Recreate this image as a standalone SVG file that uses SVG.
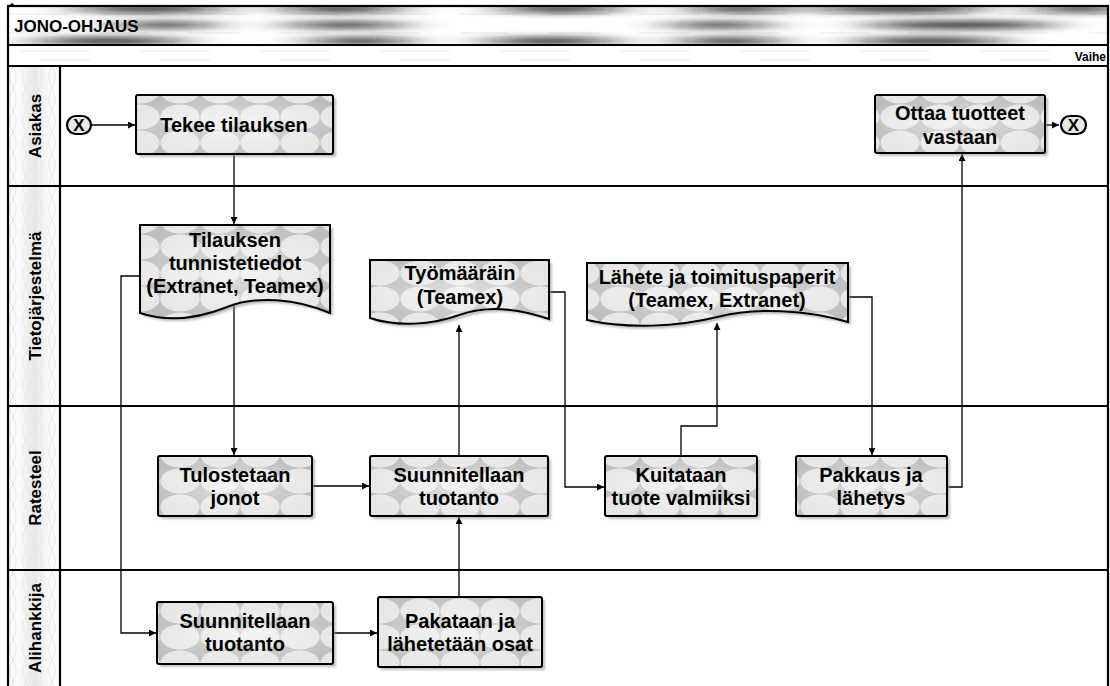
<svg xmlns="http://www.w3.org/2000/svg" width="1110" height="686" viewBox="0 0 1110 686">
<style>
.frame{fill:none;stroke:#000;stroke-width:2.2}
.box{stroke:#000;stroke-width:2;fill:url(#tile)}
.gl{fill:url(#glow);stroke:none}
.sh{fill:#8a8a8a;opacity:.55;filter:url(#sblur)}
.t{font-family:"Liberation Sans",Arial,sans-serif;font-weight:bold;font-size:20px;fill:#000;text-anchor:middle}
.lane{font-family:"Liberation Sans",Arial,sans-serif;font-weight:bold;font-size:17px;fill:#000;text-anchor:middle}
.ca{fill:none;stroke:#000;stroke-width:1.3;marker-end:url(#ah)}
.term{fill:#e8e8e8;stroke:#000;stroke-width:2.2}
.tx{font-family:"Liberation Sans",Arial,sans-serif;font-weight:bold;font-size:17px;fill:#000;text-anchor:middle}
</style>
<defs>
<pattern id="tile" patternUnits="userSpaceOnUse" width="40" height="26">
<rect width="40" height="26" fill="#bdbdbd"/>
<ellipse cx="20" cy="13" rx="20" ry="13" fill="#e6e6e6" stroke="#a8a8a8" stroke-width="0.5"/>
</pattern>
<pattern id="lanepat" patternUnits="userSpaceOnUse" width="13" height="22">
<rect width="13" height="22" fill="#fbfbfb"/>
<path d="M0,0 Q6.5,11 0,22 M13,0 Q6.5,11 13,22" fill="none" stroke="#d0d0d0" stroke-width="0.6"/>
</pattern>
<radialGradient id="glow" cx="0.5" cy="0.5" r="0.6">
<stop offset="0" stop-color="#fff" stop-opacity="0.55"/>
<stop offset="0.6" stop-color="#fff" stop-opacity="0.2"/>
<stop offset="1" stop-color="#fff" stop-opacity="0"/>
</radialGradient>
<linearGradient id="laneglow" x1="0" y1="0" x2="1" y2="0">
<stop offset="0" stop-color="#fff" stop-opacity="0"/>
<stop offset="0.5" stop-color="#e4e4e4" stop-opacity="0.9"/>
<stop offset="1" stop-color="#fff" stop-opacity="0"/>
</linearGradient>
<filter id="sblur" x="-10%" y="-10%" width="120%" height="120%"><feGaussianBlur stdDeviation="1.2"/></filter>
<filter id="hblur" x="-50%" y="-300%" width="200%" height="700%"><feGaussianBlur stdDeviation="26 3.2"/></filter>
<clipPath id="titleclip"><rect x="9" y="7" width="1099" height="38"/></clipPath>
<marker id="ah" viewBox="0 0 10 10" refX="10" refY="5" markerWidth="7" markerHeight="7" markerUnits="userSpaceOnUse" orient="auto"><path d="M0,0 L10,5 L0,10 z" fill="#000"/></marker>
</defs>

<g id="background">
<rect x="0" y="0" width="1110" height="686" fill="#fff"/>
<g clip-path="url(#titleclip)">
<rect x="9" y="7" width="1099" height="38" fill="#fff"/>
<g stroke="#d6d6d6" stroke-width="0.6">
<line x1="9" y1="14" x2="1108" y2="14" stroke-dasharray="60 30"/>
<line x1="9" y1="33" x2="1108" y2="33" stroke-dasharray="50 40"/>
</g>
<g fill="#111" filter="url(#hblur)" opacity="0.85">
<ellipse cx="150" cy="9" rx="75" ry="4"/>
<ellipse cx="340" cy="9" rx="60" ry="4"/>
<ellipse cx="560" cy="9" rx="60" ry="4"/>
<ellipse cx="740" cy="9" rx="50" ry="4"/>
<ellipse cx="900" cy="9" rx="85" ry="4"/>
<ellipse cx="1080" cy="9" rx="45" ry="4"/>
<ellipse cx="165" cy="25" rx="50" ry="3.5"/>
<ellipse cx="345" cy="25" rx="60" ry="3.5"/>
<ellipse cx="720" cy="25" rx="50" ry="3.5"/>
<ellipse cx="960" cy="25" rx="95" ry="4"/>
<ellipse cx="110" cy="41" rx="75" ry="4"/>
<ellipse cx="360" cy="41" rx="50" ry="4"/>
<ellipse cx="550" cy="41" rx="65" ry="4"/>
<ellipse cx="730" cy="41" rx="50" ry="4"/>
<ellipse cx="930" cy="41" rx="75" ry="4"/>
</g>
</g>
<g stroke="#dcdcdc" stroke-width="0.6">
<line x1="20" y1="51" x2="1100" y2="51" stroke-dasharray="70 50"/>
<line x1="40" y1="60" x2="1060" y2="60" stroke-dasharray="50 70"/>
</g>
<rect x="9" y="66" width="51" height="620" fill="url(#lanepat)"/>
<rect x="9" y="66" width="51" height="620" fill="url(#laneglow)"/>
<rect x="8" y="6" width="1100" height="682" class="frame"/>
<line x1="8" y1="45" x2="1108" y2="45" class="frame"/>
<line x1="8" y1="66" x2="1108" y2="66" class="frame"/>
<line x1="60" y1="66" x2="60" y2="686" class="frame"/>
<line x1="8" y1="186" x2="1108" y2="186" class="frame"/>
<line x1="8" y1="406" x2="1108" y2="406" class="frame"/>
<line x1="8" y1="570" x2="1108" y2="570" class="frame"/>
<circle cx="12" cy="5" r="1.8" fill="#000"/>
<text x="14" y="32" font-family="Liberation Sans, Arial, sans-serif" font-weight="bold" font-size="17" fill="#000">JONO-OHJAUS</text>
<text x="1106" y="61" font-family="Liberation Sans, Arial, sans-serif" font-weight="bold" font-size="12" fill="#000" text-anchor="end">Vaihe</text>
<text class="lane" transform="translate(41,126) rotate(-90)">Asiakas</text>
<text class="lane" transform="translate(41,296) rotate(-90)">Tietojärjestelmä</text>
<text class="lane" transform="translate(41,488) rotate(-90)">Ratesteel</text>
<text class="lane" transform="translate(41,628) rotate(-90)">Alihankkija</text>
</g>

<g id="connectors">
<path class="ca" d="M91,125 H135"/>
<path class="ca" d="M234,154 V224"/>
<path class="ca" d="M140,276 H121 V633 H156"/>
<path class="ca" d="M234,304 V455"/>
<path class="ca" d="M312,486 H369"/>
<path class="ca" d="M333,633 H377"/>
<path class="ca" d="M459,597 V517"/>
<path class="ca" d="M459,456 V325"/>
<path class="ca" d="M549,292 H565 V487 H604"/>
<path class="ca" d="M681,456 V426 H717 V323"/>
<path class="ca" d="M848,297 H872 V455"/>
<path class="ca" d="M947,487 H962 V154"/>
<path class="ca" d="M1045,125 H1059"/>
</g>

<g id="start">
<rect x="67" y="116" width="24" height="18" rx="9" class="term"/>
<text class="tx" x="79" y="131">X</text>
</g>
<g id="end">
<rect x="1061" y="116" width="25" height="18" rx="9" class="term"/>
<text class="tx" x="1073.5" y="131">X</text>
</g>

<g id="n-tekee">
<rect x="139" y="98" width="197" height="59" class="sh"/>
<rect x="136" y="95" width="197" height="59" rx="2" class="box"/>
<rect x="137" y="96" width="195" height="57" class="gl"/>
<text class="t" x="234" y="132">Tekee tilauksen</text>
</g>

<g id="n-ottaa">
<rect x="878" y="98" width="170" height="58" class="sh"/>
<rect x="875" y="95" width="170" height="58" rx="2" class="box"/>
<rect x="876" y="96" width="168" height="56" class="gl"/>
<text class="t" x="960" y="120">Ottaa tuotteet</text>
<text class="t" x="960" y="144">vastaan</text>
</g>

<g id="n-tilauksen">
<path d="M143,228 H333 V316 C300,302 260,298 230,310 C200,322 170,325 143,316 Z" class="sh"/>
<path d="M140,225 H330 V313 C297,299 257,295 227,307 C197,319 167,322 140,313 Z" class="box"/>
<path d="M141,226 H329 V312 C297,298 257,294 227,306 C197,318 167,321 141,312 Z" class="gl"/>
<text class="t" x="235" y="247">Tilauksen</text>
<text class="t" x="235" y="270">tunnistetiedot</text>
<text class="t" x="235" y="293">(Extranet, Teamex)</text>
</g>

<g id="n-tyomaarain">
<path d="M373,263 H552 V322 C520,311 490,308 462,318 C435,328 400,330 373,321 Z" class="sh"/>
<path d="M370,260 H549 V319 C517,308 487,305 459,315 C432,325 397,327 370,318 Z" class="box"/>
<path d="M371,261 H548 V318 C517,307 487,304 459,314 C432,324 397,326 371,317 Z" class="gl"/>
<text class="t" x="460" y="280">Työmääräin</text>
<text class="t" x="460" y="304">(Teamex)</text>
</g>

<g id="n-lahete">
<path d="M590,266 H851 V325 C810,313 760,310 720,320 C680,330 630,332 590,323 Z" class="sh"/>
<path d="M587,263 H848 V322 C807,310 757,307 717,317 C677,327 627,329 587,320 Z" class="box"/>
<path d="M588,264 H847 V321 C807,309 757,306 717,316 C677,326 627,328 588,319 Z" class="gl"/>
<text class="t" x="717" y="284">Lähete ja toimituspaperit</text>
<text class="t" x="717" y="307">(Teamex, Extranet)</text>
</g>

<g id="n-tulostetaan">
<rect x="161" y="459" width="154" height="60" class="sh"/>
<rect x="158" y="456" width="154" height="60" rx="2" class="box"/>
<rect x="159" y="457" width="152" height="58" class="gl"/>
<text class="t" x="235" y="482">Tulostetaan</text>
<text class="t" x="235" y="505">jonot</text>
</g>

<g id="n-suunnitellaan-r">
<rect x="373" y="459" width="178" height="60" class="sh"/>
<rect x="370" y="456" width="178" height="60" rx="2" class="box"/>
<rect x="371" y="457" width="176" height="58" class="gl"/>
<text class="t" x="459" y="482">Suunnitellaan</text>
<text class="t" x="459" y="505">tuotanto</text>
</g>

<g id="n-kuitataan">
<rect x="608" y="459" width="152" height="60" class="sh"/>
<rect x="605" y="456" width="152" height="60" rx="2" class="box"/>
<rect x="606" y="457" width="150" height="58" class="gl"/>
<text class="t" x="681" y="482">Kuitataan</text>
<text class="t" x="681" y="505">tuote valmiiksi</text>
</g>

<g id="n-pakkaus">
<rect x="799" y="459" width="151" height="60" class="sh"/>
<rect x="796" y="456" width="151" height="60" rx="2" class="box"/>
<rect x="797" y="457" width="149" height="58" class="gl"/>
<text class="t" x="871" y="482">Pakkaus ja</text>
<text class="t" x="871" y="505">lähetys</text>
</g>

<g id="n-suunnitellaan-a">
<rect x="160" y="605" width="176" height="62" class="sh"/>
<rect x="157" y="602" width="176" height="62" rx="2" class="box"/>
<rect x="158" y="603" width="174" height="60" class="gl"/>
<text class="t" x="245" y="628">Suunnitellaan</text>
<text class="t" x="245" y="651">tuotanto</text>
</g>

<g id="n-pakataan">
<rect x="381" y="600" width="164" height="70" class="sh"/>
<rect x="378" y="597" width="164" height="70" rx="2" class="box"/>
<rect x="379" y="598" width="162" height="68" class="gl"/>
<text class="t" x="460" y="628">Pakataan ja</text>
<text class="t" x="460" y="651">lähetetään osat</text>
</g>
</svg>
